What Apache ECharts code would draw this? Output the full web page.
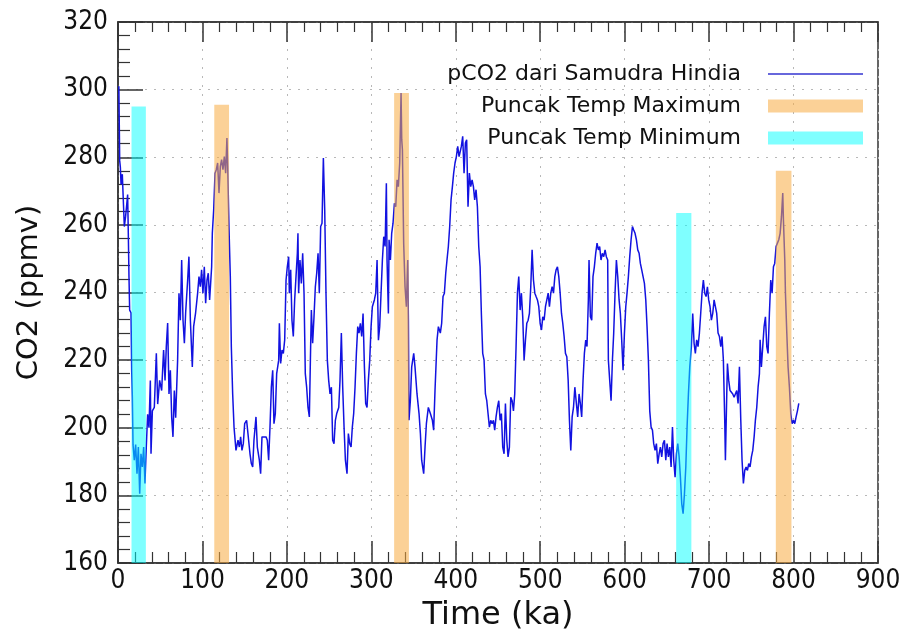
<!DOCTYPE html>
<html>
<head>
<meta charset="utf-8">
<script src="https://cdn.jsdelivr.net/npm/echarts@6/dist/echarts.min.js"></script>
<style>
  html, body { margin: 0; padding: 0; background: #fff; }
  #chart { width: 904px; height: 634px; }
</style>
</head>
<body>
<div id="chart"></div>
<script>
// Age of each sample (ka) and the matching CO2 concentration (ppmv)
const timeKa = [
  1, 2, 2.8, 3.6, 5.1, 7.5, 9, 10.7, 11.4, 12.2, 13, 13.8, 15.4, 16.2, 17, 17.8, 19.3, 20.9, 22.5, 24.1,
  25.7, 27.2, 28.8, 30.4, 31.9, 33.5, 35.1, 36.7, 38.3, 39.1, 40.7, 43, 45.4, 47, 49.3, 51.7, 54, 55.7, 57.2, 58.8,
  60.4, 62, 63.6, 65.1, 66.7, 68.3, 70.6, 72.2, 73.8, 75.4, 77, 78.6, 80.1, 82.5, 84, 85.7, 88, 89.6, 91.9, 94.3,
  95.9, 97.5, 99, 100.6, 102.2, 103.8, 105.4, 106.9, 108.5, 110.9, 111.7, 113.3, 114.9, 116.4, 118, 119.6, 121.2, 122.7, 124.3, 125.9,
  127.5, 129, 129.9, 131.4, 133, 134.2, 135.8, 137.4, 139.7, 142.1, 143.7, 145.2, 146.8, 148.4, 150, 152.3, 153.9, 156.3, 157.9, 159.5,
  161, 163.4, 165, 167.4, 168.9, 170.5, 172.9, 175.3, 176.8, 178.4, 180, 181.6, 183.2, 184.7, 186.3, 187.9, 190.3, 191.1, 192.6, 194.2,
  195.8, 197.4, 199, 200.5, 202.1, 202.9, 204.5, 206, 207.6, 209.2, 210.8, 212.4, 213.1, 213.9, 215.5, 217.1, 218.7, 220.3, 221.8, 223.4,
  225, 226.6, 228.2, 229, 230.5, 232.1, 233.7, 235.3, 236.9, 238.4, 240, 241.6, 243.2, 244.8, 246.3, 247.9, 249.5, 251.1, 252.7, 254.2,
  255.8, 257.4, 259, 261.4, 262.9, 264.5, 266.1, 267.7, 269.3, 271.2, 272.8, 274.4, 276, 277.5, 279.1, 280.7, 282.3, 283.9, 285.4, 287,
  288.6, 290.2, 291.8, 293.3, 294.9, 296.5, 298.1, 299.7, 301.2, 303.6, 305.2, 306.8, 308.4, 309.9, 311.5, 313.1, 314.7, 316.3, 317.8, 318.6,
  320.2, 321, 322.6, 324.1, 325.7, 327.3, 328.9, 330.5, 332, 333.6, 335.2, 336, 336.8, 338.3, 339.9, 341.5, 343.1, 343.9, 344.6, 346.2,
  347.8, 350.2, 351.7, 354.1, 356.5, 358.1, 359.6, 362, 363.6, 365.2, 367.5, 369.9, 372.3, 373.8, 375.4, 377.8, 379.4, 381.7, 383.3, 384.9,
  386.5, 388.1, 389.6, 391.2, 392.8, 394.4, 396, 397.5, 399.1, 400.7, 402.3, 403.9, 405, 406.6, 408.2, 409.8, 411.4, 412.9, 414.5, 416.1,
  417.7, 419.3, 420.9, 422.4, 424, 425.6, 427.2, 428.8, 430.3, 431.9, 433.5, 435.1, 436.7, 438.2, 439.8, 441.4, 443, 444.6, 446.1, 447.7,
  449.3, 450.9, 452.5, 454, 455.6, 457.2, 458.8, 460.4, 461.9, 463.5, 465.1, 466.7, 468.3, 469.8, 471.4, 473, 474.6, 476.2, 477.7, 479.3,
  480.9, 482.5, 484.1, 485.7, 487.2, 488.8, 490.4, 492, 493.6, 495.1, 496.7, 498.3, 499.9, 501.5, 503, 504.6, 506.2, 507.8, 509.4, 510.9,
  512.5, 514.1, 515.7, 517.3, 518.8, 520.4, 522, 523.6, 525.2, 526.7, 528.3, 529.9, 531.5, 533.1, 534.6, 536.2, 537.8, 539.4, 541, 542.8,
  544.4, 546, 547.5, 549.1, 550.7, 552.3, 553.9, 555.4, 557, 557.8, 559.4, 561, 562.5, 564.1, 565.7, 567.3, 568.9, 570.4, 572, 573.6,
  575.2, 576.8, 578.3, 579.9, 580.7, 582.3, 583.9, 585.5, 587, 588.6, 590.2, 591.8, 593.4, 594.9, 596.5, 598.1, 599.7, 601.3, 602.8, 604.4,
  606, 607.6, 609.2, 610.7, 612.3, 613.9, 615.5, 617.1, 618.6, 620.2, 621.8, 623.4, 625, 626.5, 628.1, 629.7, 631.3, 632.9, 634.4, 636,
  637.6, 639.2, 640.8, 642.3, 643.9, 645.5, 647.1, 648.7, 650.2, 651.8, 653.4, 655, 656.6, 658.1, 659.7, 661.3, 662.9, 664.5, 666, 667.6,
  669.2, 670.8, 672.4, 673.9, 675.5, 677.1, 679, 680.6, 682.2, 683.7, 685.3, 686.9, 688.5, 690.1, 691.6, 693.2, 694.8, 696.4, 698, 699.5,
  701.1, 702.7, 704.3, 705.9, 707.4, 709, 710.6, 712.2, 713.8, 715.3, 716.9, 718.5, 719.3, 720.9, 721.7, 723.2, 724.8, 726.4, 728, 729.6,
  731.1, 732.7, 734.3, 735.9, 737.5, 739, 740.6, 742.2, 743.8, 745.4, 746.9, 748.5, 750.1, 751.7, 753.3, 754.8, 756.4, 758, 759.6, 760.4,
  761.9, 763.5, 765.1, 766.7, 768.3, 769.8, 771.4, 773, 774.6, 776.2, 777.7, 779.3, 780.9, 782.5, 784.1, 785.7, 787.2, 788, 789.6, 790.4,
  792, 793.5, 795.1, 796.7, 798.3, 799.9, 801.4, 803, 804.6, 806.2
];
const co2Ppmv = [
  301, 279, 277, 272, 275, 259.5, 262.5, 267, 269, 257.5, 244.7, 234.8, 234, 217, 209, 195, 190.4, 195, 186.4, 194.3,
  180.5, 192.3, 188.4, 194.3, 183.5, 194.3, 204, 200, 214, 192.3, 205, 206, 222, 207, 214, 211, 223, 214, 224, 231,
  210, 217, 203, 197.3, 211, 203, 220, 239.8, 231.8, 249.6, 231.8, 225, 234, 243.7, 250.6, 231.8, 218, 230, 234, 239.8,
  244.7, 241.7, 246.7, 239.8, 247.6, 236.8, 243.7, 245.7, 237.8, 247.6, 257.5, 264.4, 275.3, 276.3, 278.3, 269.4, 277.3, 279.3, 276.3, 280.2,
  275.3, 285.7, 277.3, 259.5, 244.7, 224, 210, 200.2, 193.3, 196.3, 194.3, 197.3, 193.3, 195.3, 201.2, 202.2, 198.3, 192.3, 189.4, 188.4,
  196.3, 203.2, 194.3, 190.4, 186.4, 197.3, 197.3, 197.3, 196.3, 190.4, 200.2, 212, 217, 201.2, 204.2, 216, 220, 230.9, 219, 223,
  222, 226, 243.7, 247.6, 250.6, 239.8, 246.7, 231.8, 227, 237.8, 244.7, 251.6, 257.5, 239.8, 249.6, 242.7, 251.6, 239.8, 216, 212,
  206, 203.2, 225, 234.8, 225, 232.8, 241.7, 245.7, 251.6, 239.8, 259.5, 260.5, 279.8, 264.4, 239.8, 220, 214, 210, 212, 196.3,
  195.3, 202.2, 204.2, 206, 214, 228, 212, 200.2, 190.4, 186.4, 198.3, 195.3, 194.3, 200.2, 204.2, 212, 222, 229.9, 228, 230.9,
  227, 233.8, 218, 207.2, 206, 214, 220, 229.9, 235.8, 237.8, 239.8, 249.6, 225.9, 229.9, 239.8, 249.6, 256.5, 253.6, 272.3, 249.6,
  233.8, 255.6, 249.6, 257.5, 260.5, 266.4, 265.4, 273.3, 271.3, 278.3, 299, 285.2, 282.2, 254.6, 241.7, 235.8, 249.6, 231.8, 202.2, 208,
  218, 222, 218, 210, 204.2, 198.3, 190.4, 186.4, 194.3, 201.2, 206, 204.2, 202.2, 199.3, 211, 225.9, 229.9, 228, 230.9, 238.8,
  239.8, 245.7, 249.6, 253.6, 259.5, 267.4, 271.3, 275.3, 278.3, 280.2, 283.2, 280.2, 280.2, 283.2, 286.2, 275.3, 284.2, 285.2, 265.4, 275.3,
  271.3, 273.3, 271.3, 267.4, 270.4, 265.4, 253.6, 247.6, 233.8, 222, 220, 210, 208, 204.2, 200.2, 202.2, 201.2, 202.2, 199.3, 203.2,
  206, 208, 202.2, 204.2, 194.3, 192.3, 207.2, 196.3, 191.4, 194.3, 209, 208, 205, 210, 224, 239.8, 244.7, 234.8, 239.8, 232.8,
  220, 225.9, 230.9, 231.8, 233.8, 241.7, 252.6, 243.7, 239.8, 238.8, 237.8, 235.8, 230.9, 228.9, 232.8, 231.8, 235.8, 237.8, 239.8, 235.8,
  239.8, 241.7, 239.8, 244.7, 246.7, 247.6, 244.7, 239.8, 233.8, 230.9, 227, 222, 221, 214, 202.2, 193.3, 203.2, 206, 212, 207.2,
  203.2, 210, 207.2, 203.2, 214, 222, 225.9, 224, 237.8, 249.6, 232.8, 231.8, 244.7, 247.6, 251.6, 254.6, 252.6, 253.6, 249.6, 251.6,
  250.6, 252.6, 250.6, 249.6, 220, 214, 208, 220, 227.9, 239.8, 249.6, 244.7, 237.8, 233.8, 225.9, 217, 227.9, 235.8, 239.8, 244.7,
  250.6, 255.6, 259.5, 258.5, 257.5, 255.6, 252.6, 251.6, 248.6, 246.7, 244.7, 242.7, 237.8, 229.9, 220, 205, 200.2, 199.3, 195.3, 193.3,
  195.3, 189.4, 192.3, 194.3, 191.4, 195.3, 196.3, 190.4, 195.3, 191.4, 194.3, 188.4, 200.2, 190.4, 185.4, 192.3, 195.3, 191.4, 185.4, 177.5,
  174.6, 180.5, 188.4, 200.2, 210, 218, 224, 233.8, 225, 222, 226, 224, 228, 234, 239.8, 243.7, 239.8, 238.8, 241.7, 237.8,
  235.8, 231.8, 233.8, 237.8, 237.8, 233.8, 228, 227, 224, 227, 220, 202.2, 190.4, 210, 219, 214, 211, 211, 210, 209,
  210, 211, 207.2, 218, 202.2, 190.4, 183.5, 187.4, 188.4, 187.4, 189.4, 188.4, 191.4, 193.3, 197.3, 202.2, 206, 212, 216, 226,
  218, 224, 229.9, 232.8, 224, 222, 233.8, 243.7, 239.8, 247.6, 248.6, 253.6, 254.6, 255.6, 257.5, 262.5, 269.4, 261.5, 249.6, 239.8,
  228, 218, 212, 204.2, 201.2, 202.2, 201.2, 203.2, 205, 207.2
];

// Shaded intervals around the temperature peaks: start (ka), end (ka), top (ppmv)
const maxBandStart = [114, 327, 779];
const maxBandEnd = [131.5, 344.5, 797.5];
const maxBandTop = [295.5, 299, 276];
const minBandStart = [16, 661];
const minBandEnd = [33, 679];
const minBandTop = [295, 263.5];

// Axis ticks
const xTicks = [0, 100, 200, 300, 400, 500, 600, 700, 800, 900];
const yTicks = [160, 180, 200, 220, 240, 260, 280, 300, 320];

const lineName = 'pCO2 dari Samudra Hindia';
const maxName = 'Puncak Temp Maximum';
const minName = 'Puncak Temp Minimum';

const axisColor = '#333';
const tickFont = 'DejaVu Sans Condensed, DejaVu Sans, sans-serif';
const textFont = 'DejaVu Sans, sans-serif';

const co2Data = timeKa.map((t, i) => [t, co2Ppmv[i]]);
const maxData = maxBandStart.map((s, i) => [s, maxBandEnd[i], maxBandTop[i]]);
const minData = minBandStart.map((s, i) => [s, minBandEnd[i], minBandTop[i]]);

function bandItem(params, api) {
  const yMin = yTicks[0];
  const p0 = api.coord([api.value(0), api.value(2)]);
  const p1 = api.coord([api.value(1), yMin]);
  return {
    type: 'rect',
    shape: { x: p0[0], y: p0[1], width: p1[0] - p0[0], height: p1[1] - p0[1] },
    style: { fill: api.visual('color') }
  };
}

const splitLineStyle = { show: true, lineStyle: { color: '#b8b8b8', width: 1, type: [2, 7] } };

const chart = echarts.init(document.getElementById('chart'), null, { renderer: 'canvas' });
chart.setOption({
  animation: false,
  backgroundColor: '#ffffff',
  grid: {
    left: 118, right: 26, top: 22, bottom: 71,
    containLabel: false, outerBoundsMode: 'none',
    show: true, borderColor: axisColor, borderWidth: 1.5, backgroundColor: 'transparent'
  },
  legend: {
    orient: 'vertical',
    align: 'right',
    right: 41,
    top: 63,
    padding: 0,
    itemWidth: 95,
    itemHeight: 13,
    itemGap: 10,
    selectedMode: false,
    textStyle: { fontFamily: textFont, fontSize: 22, color: '#111', padding: [0, 22, 0, 0] },
    data: [
      { name: lineName, icon: 'path://M0,0H95V1.6H0Z', itemStyle: { color: '#3434d0' } },
      { name: maxName, icon: 'rect' },
      { name: minName, icon: 'rect' }
    ]
  },
  xAxis: [
    {
      type: 'value', position: 'bottom', min: xTicks[0], max: xTicks[xTicks.length - 1], interval: 100,
      axisLine: { show: true, lineStyle: { color: axisColor, width: 1.5 } },
      axisTick: { show: true, inside: true, length: 22, lineStyle: { color: axisColor, width: 1.5 } },
      minorTick: { show: true, splitNumber: 5, length: 11, lineStyle: { color: axisColor, width: 1.2 } },
      axisLabel: { fontFamily: tickFont, fontSize: 26, color: '#111', margin: 5 },
      splitLine: splitLineStyle,
      name: 'Time (ka)', nameLocation: 'middle', nameGap: 37,
      nameTextStyle: { fontFamily: textFont, fontSize: 32, color: '#111' }
    },
    {
      type: 'value', position: 'top', min: xTicks[0], max: xTicks[xTicks.length - 1], interval: 100,
      axisLine: { show: true, lineStyle: { color: axisColor, width: 1.5 } },
      axisTick: { show: true, inside: true, length: 20, lineStyle: { color: axisColor, width: 1.5 } },
      minorTick: { show: true, splitNumber: 5, length: 10, lineStyle: { color: axisColor, width: 1.2 } },
      axisLabel: { show: false },
      splitLine: { show: false }
    }
  ],
  yAxis: {
    type: 'value', min: yTicks[0], max: yTicks[yTicks.length - 1], interval: 20,
    axisLine: { show: true, lineStyle: { color: axisColor, width: 1.5 } },
    axisTick: { show: true, inside: true, length: 25, lineStyle: { color: axisColor, width: 1.5 } },
    minorTick: { show: true, splitNumber: 5, length: 12, lineStyle: { color: axisColor, width: 1.2 } },
    axisLabel: { fontFamily: tickFont, fontSize: 26, color: '#111', margin: 10 },
    splitLine: splitLineStyle,
    name: 'CO2 (ppmv)', nameLocation: 'middle', nameGap: 74,
    nameTextStyle: { fontFamily: textFont, fontSize: 29, color: '#111' }
  },
  series: [
    {
      name: lineName, type: 'line', data: co2Data, xAxisIndex: 0,
      showSymbol: false, symbol: 'none', z: 2,
      lineStyle: { color: '#1212e0', width: 1.5 },
      itemStyle: { color: '#1212e0' }
    },
    {
      name: maxName, type: 'custom', data: maxData, xAxisIndex: 0, z: 3,
      renderItem: bandItem,
      encode: { x: [0, 1], y: 2 },
      itemStyle: { color: 'rgba(247,171,65,0.55)' }
    },
    {
      name: minName, type: 'custom', data: minData, xAxisIndex: 0, z: 3,
      renderItem: bandItem,
      encode: { x: [0, 1], y: 2 },
      itemStyle: { color: 'rgba(0,255,255,0.5)' }
    }
  ]
});
</script>
</body>
</html>
